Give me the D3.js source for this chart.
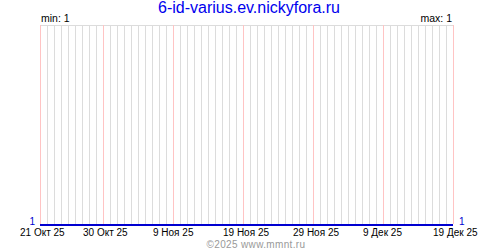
<!DOCTYPE html>
<html><head><meta charset="utf-8">
<script src="https://cdn.jsdelivr.net/npm/d3@7"></script>
<style>body{margin:0;background:#fff}svg{display:block}</style>
</head><body>
<svg id="c" width="500" height="250"></svg>
<script>
const title = "6-id-varius.ev.nickyfora.ru";
const startDate = "2025-10-21";
const endDate = "2025-12-19";
const values = [1,1,1,1,1,1,1,1,1,1,1,1,1,1,1,1,1,1,1,1,1,1,1,1,1,1,1,1,1,1,
                1,1,1,1,1,1,1,1,1,1,1,1,1,1,1,1,1,1,1,1,1,1,1,1,1,1,1,1,1,1];
const tickDates = ["2025-10-21","2025-10-30","2025-11-09","2025-11-19","2025-11-29","2025-12-09","2025-12-19"];
const tickLabels = ["21 Окт 25","30 Окт 25","9 Ноя 25","19 Ноя 25","29 Ноя 25","9 Дек 25","19 Дек 25"];
const minLabel = "min: 1", maxLabel = "max: 1";
const copyright = "©2025 www.mmnt.ru";

const parse = d3.utcParse("%Y-%m-%d");
const days = d3.utcDay.range(parse(startDate), d3.utcDay.offset(parse(endDate), 1));
const data = days.map((d, i) => ({date: d, value: values[i]}));

const svg = d3.select("#c");
const font = "'Liberation Sans', Arial, sans-serif";
const x = d3.scaleUtc().domain([parse(startDate), parse(endDate)]).range([40, 453]);
const y = d3.scaleLinear().domain([1, 2]).range([225, 25]);

// day grid
svg.append("g").selectAll("line").data(days).join("line")
  .attr("x1", d => Math.round(x(d)) + 0.5).attr("x2", d => Math.round(x(d)) + 0.5)
  .attr("y1", 25).attr("y2", 224)
  .attr("stroke", "#dcdcdc").attr("stroke-width", 1);
// top border
svg.append("line").attr("x1", 40).attr("x2", 454).attr("y1", 25.5).attr("y2", 25.5)
  .attr("stroke", "#dcdcdc");
// tick lines pink
const ticks = tickDates.map(parse);
svg.append("g").selectAll("line").data(ticks).join("line")
  .attr("x1", d => Math.round(x(d)) + 0.5).attr("x2", d => Math.round(x(d)) + 0.5)
  .attr("y1", 25).attr("y2", 224)
  .attr("stroke", "#ffc4c4").attr("stroke-width", 1);

// data line
const line = d3.line().x(d => x(d.date)).y(d => y(d.value));
svg.append("path").datum(data).attr("d", line)
  .attr("fill", "none").attr("stroke", "#0000d0").attr("stroke-width", 2);

// tick labels
svg.append("g").selectAll("text").data(ticks).join("text")
  .attr("x", d => x(d) - 20).attr("y", 236)
  .attr("font-family", font).attr("font-size", 10).attr("fill", "#000")
  .text((d, i) => tickLabels[i]);

// value labels
svg.append("text").attr("x", 35).attr("y", 225).attr("text-anchor", "end")
  .attr("font-family", font).attr("font-size", 10).attr("fill", "#0000d0").text(values[0]);
svg.append("text").attr("x", 459).attr("y", 225)
  .attr("font-family", font).attr("font-size", 10).attr("fill", "#0000d0").text(values[values.length - 1]);

svg.append("text").attr("x", 41).attr("y", 22)
  .attr("font-family", font).attr("font-size", 10.5).attr("fill", "#000").text(minLabel);
svg.append("text").attr("x", 452).attr("y", 22).attr("text-anchor", "end")
  .attr("font-family", font).attr("font-size", 10.5).attr("fill", "#000").text(maxLabel);

svg.append("text").attr("x", 249).attr("y", 13).attr("text-anchor", "middle")
  .attr("font-family", font).attr("font-size", 16).attr("fill", "#0000ee").text(title);

svg.append("text").attr("x", 256).attr("y", 248).attr("text-anchor", "middle")
  .attr("font-family", font).attr("font-size", 10).attr("letter-spacing", 0.35)
  .attr("fill", "#999").text(copyright);
</script>
</body></html>
